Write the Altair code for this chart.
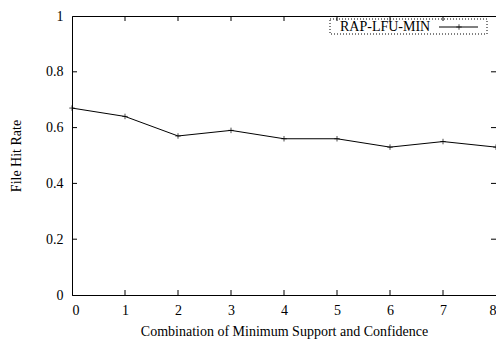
import altair as alt
import pandas as pd

combos = [0, 1, 2, 3, 4, 5, 6, 7, 8]
hit_rate = [0.67, 0.64, 0.57, 0.59, 0.56, 0.56, 0.53, 0.55, 0.53]
series_name = "RAP-LFU-MIN"
x_ticks = [0, 1, 2, 3, 4, 5, 6, 7, 8]
y_ticks = [0, 0.2, 0.4, 0.6, 0.8, 1]

W, H = 424, 279
FONT = "Liberation Serif"

df = pd.DataFrame({"x": combos, "y": hit_rate})
xt = pd.DataFrame({"x": x_ticks[1:-1]})
yt = pd.DataFrame({"y": y_ticks[1:-1]})
leg = pd.DataFrame({"name": [series_name]})

xs = alt.Scale(domain=[0, 8], nice=False)
ys = alt.Scale(domain=[0, 1], nice=False)

xaxis = alt.Axis(values=x_ticks, ticks=False, grid=False, labelPadding=8,
                 title="Combination of Minimum Support and Confidence",
                 titlePadding=7, format="d")
yaxis = alt.Axis(values=y_ticks, ticks=False, grid=False, labelPadding=9,
                 title="File Hit Rate", titlePadding=22,
                 labelExpr="datum.value == 0 ? '0' : datum.value == 1 ? '1' : format(datum.value, '.1f')")

line = alt.Chart(df).mark_line(color="black", strokeWidth=1).encode(
    x=alt.X("x:Q", scale=xs, axis=xaxis),
    y=alt.Y("y:Q", scale=ys, axis=yaxis),
)
pts = alt.Chart(df).mark_point(shape="M-1,0L1,0M0,-1L0,1", size=30, color="black",
                               strokeWidth=1, filled=False).encode(
    x=alt.X("x:Q", scale=xs), y=alt.Y("y:Q", scale=ys))

tb = alt.Chart(xt).mark_rule(color="black").encode(
    x=alt.X("x:Q", scale=xs), y=alt.value(H - 5), y2=alt.value(H))
tt = alt.Chart(xt).mark_rule(color="black").encode(
    x=alt.X("x:Q", scale=xs), y=alt.value(0), y2=alt.value(5))
tl = alt.Chart(yt).mark_rule(color="black").encode(
    y=alt.Y("y:Q", scale=ys), x=alt.value(0), x2=alt.value(5))
tr = alt.Chart(yt).mark_rule(color="black").encode(
    y=alt.Y("y:Q", scale=ys), x=alt.value(W - 5), x2=alt.value(W))

box = alt.Chart(leg).mark_rect(fill=None, stroke="black", strokeWidth=1,
                               strokeDash=[1, 2]).encode(
    x=alt.value(258), x2=alt.value(415), y=alt.value(3), y2=alt.value(18))
ltxt = alt.Chart(leg).mark_text(font=FONT, fontSize=14, align="left",
                                baseline="middle", color="black").encode(
    x=alt.value(268), y=alt.value(11), text="name:N")
lline = alt.Chart(leg).mark_rule(color="black", strokeWidth=1).encode(
    x=alt.value(367), x2=alt.value(406), y=alt.value(11))
lpt = alt.Chart(leg).mark_point(shape="M-1,0L1,0M0,-1L0,1", size=30, color="black",
                                strokeWidth=1, filled=False).encode(
    x=alt.value(387), y=alt.value(11))

chart = alt.layer(line, pts, tb, tt, tl, tr, box, ltxt, lline, lpt).properties(
    width=W, height=H,
    background="white",
    autosize=alt.AutoSizeParams(type="none"),
    padding={"left": 64, "top": 8, "right": 0, "bottom": 44},
).configure_view(stroke="black", strokeWidth=1).configure_axis(
    domainColor="black", labelFont=FONT, titleFont=FONT, labelFontSize=14,
    titleFontSize=14, titleFontWeight="normal", labelColor="black", titleColor="black",
)

chart.save("out.html", embed_options={"renderer": "svg", "actions": False})
